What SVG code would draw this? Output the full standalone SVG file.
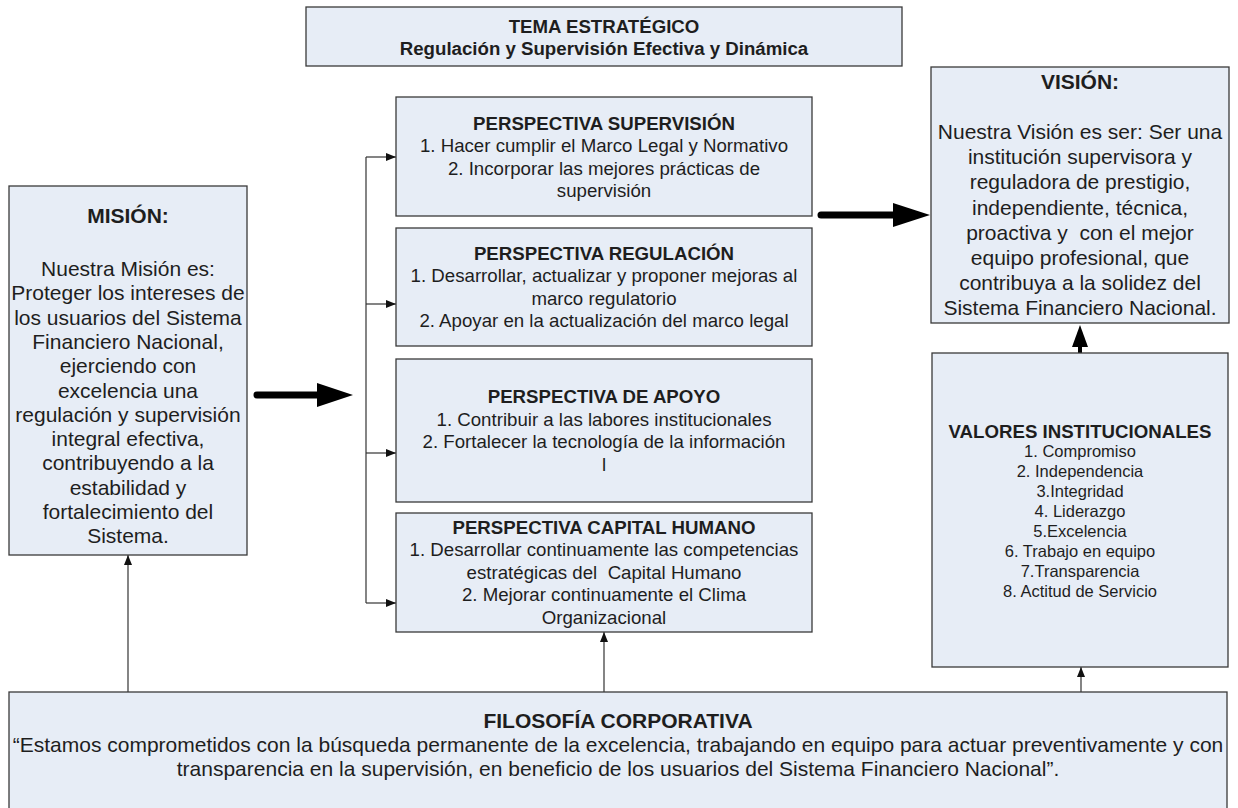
<svg xmlns="http://www.w3.org/2000/svg" width="1238" height="808" viewBox="0 0 1238 808">
<style>
.box{fill:#e7edf6;stroke:#3a3a3a;stroke-width:1.3}
text{font-family:"Liberation Sans",Arial,sans-serif;fill:#1e1e1e;text-anchor:middle}
.h{font-weight:bold;font-size:18.67px}
.b{font-size:18.67px}
.bh{font-weight:bold;font-size:21px}
.bb{font-size:21px}
.v{font-size:16.5px}
.ln{fill:none;stroke:#333;stroke-width:1.2}
.big{fill:none;stroke:#000;stroke-width:7;stroke-linecap:round}
.pre{white-space:pre}
</style>
<defs>
<marker id="ah" markerWidth="10" markerHeight="8" refX="10" refY="4" orient="auto" markerUnits="userSpaceOnUse">
<path d="M0,0 L10,4 L0,8 Z" fill="#111"/>
</marker>
</defs>
<rect width="1238" height="808" fill="#fff"/>

<g id="connectors">
<path class="ln" d="M366,157 L366,603"/>
<path class="ln" d="M366,157 L396,157" marker-end="url(#ah)"/>
<path class="ln" d="M366,304 L396,304" marker-end="url(#ah)"/>
<path class="ln" d="M366,453 L396,453" marker-end="url(#ah)"/>
<path class="ln" d="M366,603 L396,603" marker-end="url(#ah)"/>
<path class="ln" d="M128,692 L128,555" marker-end="url(#ah)"/>
<path class="ln" d="M604,692 L604,632" marker-end="url(#ah)"/>
<path class="ln" d="M1081,692 L1081,667" marker-end="url(#ah)"/>
<path class="big" d="M257,395 L318,395"/>
<polygon points="317,383 353,395 317,407" fill="#000"/>
<path class="big" d="M821,215 L894,215"/>
<polygon points="893,203 930,215 893,227" fill="#000"/>
<path d="M1080,353 L1080,345" stroke="#000" stroke-width="4"/>
<polygon points="1072,347 1080,325 1088,347" fill="#000"/>
</g>

<g id="tema">
<rect class="box" x="306" y="7" width="596" height="59"/>
<text class="h" x="604" y="33">TEMA ESTRATÉGICO</text>
<text class="h" x="604" y="55">Regulación y Supervisión Efectiva y Dinámica</text>
</g>

<g id="mision">
<rect class="box" x="9" y="186" width="238" height="369"/>
<text class="bh" x="128" y="223">MISIÓN:</text>
<text class="bb" x="128" y="276">Nuestra Misión es:</text>
<text class="bb" x="128" y="300.3">Proteger los intereses de</text>
<text class="bb" x="128" y="324.6">los usuarios del Sistema</text>
<text class="bb" x="128" y="348.9">Financiero Nacional,</text>
<text class="bb" x="128" y="373.2">ejerciendo con</text>
<text class="bb" x="128" y="397.5">excelencia una</text>
<text class="bb" x="128" y="421.8">regulación y supervisión</text>
<text class="bb" x="128" y="446.1">integral efectiva,</text>
<text class="bb" x="128" y="470.4">contribuyendo a la</text>
<text class="bb" x="128" y="494.7">estabilidad y</text>
<text class="bb" x="128" y="519">fortalecimiento del</text>
<text class="bb" x="128" y="543.3">Sistema.</text>
</g>

<g id="p-supervision">
<rect class="box" x="396" y="97" width="416" height="119"/>
<text class="h" x="604" y="129.5">PERSPECTIVA SUPERVISIÓN</text>
<text class="b" x="604" y="152">1. Hacer cumplir el Marco Legal y Normativo</text>
<text class="b" x="604" y="174.5">2. Incorporar las mejores prácticas de</text>
<text class="b" x="604" y="197">supervisión</text>
</g>

<g id="p-regulacion">
<rect class="box" x="396" y="228" width="416" height="118"/>
<text class="h" x="604" y="259.5">PERSPECTIVA REGULACIÓN</text>
<text class="b" x="604" y="282">1. Desarrollar, actualizar y proponer mejoras al</text>
<text class="b" x="604" y="304.5">marco regulatorio</text>
<text class="b" x="604" y="327">2. Apoyar en la actualización del marco legal</text>
</g>

<g id="p-apoyo">
<rect class="box" x="396" y="359" width="416" height="143"/>
<text class="h" x="604" y="403">PERSPECTIVA DE APOYO</text>
<text class="b" x="604" y="425.5">1. Contribuir a las labores institucionales</text>
<text class="b" x="604" y="448">2. Fortalecer la tecnología de la información</text>
<text class="b" x="604" y="470.5">l</text>
</g>

<g id="p-capital">
<rect class="box" x="396" y="513" width="416" height="119"/>
<text class="h" x="604" y="533.5">PERSPECTIVA CAPITAL HUMANO</text>
<text class="b" x="604" y="556">1. Desarrollar continuamente las competencias</text>
<text class="b pre" x="604" y="578.5">estratégicas del  Capital Humano</text>
<text class="b" x="604" y="601">2. Mejorar continuamente el Clima</text>
<text class="b" x="604" y="623.5">Organizacional</text>
</g>

<g id="vision">
<rect class="box" x="931" y="67" width="298" height="256"/>
<text class="bh" x="1080" y="89">VISIÓN:</text>
<text class="bb" x="1080" y="139">Nuestra Visión es ser: Ser una</text>
<text class="bb" x="1080" y="164.2">institución supervisora y</text>
<text class="bb" x="1080" y="189.4">reguladora de prestigio,</text>
<text class="bb" x="1080" y="214.6">independiente, técnica,</text>
<text class="bb pre" x="1080" y="239.8">proactiva y  con el mejor</text>
<text class="bb" x="1080" y="265">equipo profesional, que</text>
<text class="bb" x="1080" y="290.2">contribuya a la solidez del</text>
<text class="bb" x="1080" y="315.4">Sistema Financiero Nacional.</text>
</g>

<g id="valores">
<rect class="box" x="932" y="353" width="296" height="314"/>
<text class="h" x="1080" y="438">VALORES INSTITUCIONALES</text>
<text class="v" x="1080" y="457">1. Compromiso</text>
<text class="v" x="1080" y="477">2. Independencia</text>
<text class="v" x="1080" y="497">3.Integridad</text>
<text class="v" x="1080" y="517">4. Liderazgo</text>
<text class="v" x="1080" y="537">5.Excelencia</text>
<text class="v" x="1080" y="557">6. Trabajo en equipo</text>
<text class="v" x="1080" y="577">7.Transparencia</text>
<text class="v" x="1080" y="597">8. Actitud de Servicio</text>
</g>

<g id="filosofia">
<rect class="box" x="9" y="692" width="1218" height="125"/>
<text class="bh" x="618" y="728">FILOSOFÍA CORPORATIVA</text>
<text class="bb" x="618" y="752">“Estamos comprometidos con la búsqueda permanente de la excelencia, trabajando en equipo para actuar preventivamente y con</text>
<text class="bb" x="618" y="776">transparencia en la supervisión, en beneficio de los usuarios del Sistema Financiero Nacional”.</text>
</g>
</svg>
